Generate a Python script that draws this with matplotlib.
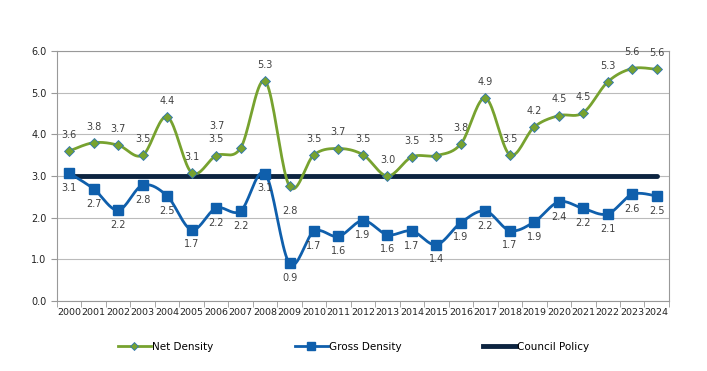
import numpy as np
import matplotlib.pyplot as plt

years = [str(y) for y in range(2000, 2025)]
net_density = [3.6, 3.8, 3.74, 3.5, 4.42, 3.08, 3.49, 3.67, 5.28, 2.75, 3.51, 3.66, 3.51,
               3.0, 3.46, 3.49, 3.77, 4.87, 3.51, 4.18, 4.45, 4.52, 5.26, 5.58, 5.56]
gross_density = [3.07, 2.69, 2.18, 2.78, 2.52, 1.71, 2.23, 2.16, 3.06, 0.9, 1.67, 1.55, 1.93,
                 1.59, 1.68, 1.35, 1.88, 2.16, 1.69, 1.9, 2.38, 2.22, 2.09, 2.56, 2.52]
council_policy = [3.0] * len(years)

GREEN = "#77a22f"
BLUE = "#0f5fac"
NAVY = "#0c2440"


def smooth(x, y, n=20):
    # Excel-style smoothed line: cubic bezier, control points from neighbours
    x = np.asarray(x, float)
    y = np.asarray(y, float)
    px = np.concatenate([[x[0]], x, [x[-1]]])
    py = np.concatenate([[y[0]], y, [y[-1]]])
    t = np.linspace(0, 1, n)[:, None]
    xs, ys = [], []
    for i in range(1, len(px) - 2):
        p0 = np.array([px[i], py[i]])
        p3 = np.array([px[i + 1], py[i + 1]])
        p1 = p0 + (np.array([px[i + 1], py[i + 1]]) - np.array([px[i - 1], py[i - 1]])) / 6
        p2 = p3 - (np.array([px[i + 2], py[i + 2]]) - np.array([px[i], py[i]])) / 6
        b = (1 - t) ** 3 * p0 + 3 * (1 - t) ** 2 * t * p1 + 3 * (1 - t) * t ** 2 * p2 + t ** 3 * p3
        xs.append(b[:, 0])
        ys.append(b[:, 1])
    return np.concatenate(xs), np.concatenate(ys)


plt.rcParams["font.family"] = "DejaVu Sans"
fig = plt.figure(figsize=(7.07, 3.71), dpi=100)
ax = fig.add_axes([0.0806, 0.1887, 0.8656, 0.6738])

x = np.arange(len(years))

ax.plot(x, council_policy, color=NAVY, lw=3.5, solid_capstyle="round", zorder=2)

sx, sy = smooth(x, gross_density)
ax.plot(sx, sy, color=BLUE, lw=2, zorder=3)
ax.plot(x, gross_density, ls="none", marker="s", ms=6.5, color=BLUE, zorder=4)

sx, sy = smooth(x, net_density)
ax.plot(sx, sy, color=GREEN, lw=2, zorder=5)
ax.plot(x, net_density, ls="none", marker="D", ms=5, mfc=GREEN, mec="#2e75b6",
        mew=0.6, zorder=6)

# label offsets (points); most net labels above, gross labels below
net_off = {i: (0, 8) for i in x}
net_off[7] = (-17, 12)
net_off[9] = (0, -18)
gross_off = {i: (0, -7) for i in x}

for i in x:
    dx, dy = net_off[i]
    ax.annotate(f"{net_density[i]:.1f}", (i, net_density[i]), xytext=(dx, dy),
                textcoords="offset points", ha="center",
                va="bottom" if dy > 0 else "center", fontsize=7, color="#404040")
    dx, dy = gross_off[i]
    ax.annotate(f"{gross_density[i]:.1f}", (i, gross_density[i]), xytext=(dx, dy),
                textcoords="offset points", ha="center", va="top", fontsize=7,
                color="#404040")

ax.set_xlim(-0.5, len(years) - 0.5)
ax.set_ylim(0, 6)
ax.set_yticks(np.arange(0, 6.1, 1.0))
ax.set_yticklabels([f"{v:.1f}" for v in np.arange(0, 6.1, 1.0)])
ax.set_xticks(x)
ax.set_xticklabels(years)
ax.set_xticks(np.arange(-0.5, len(years)), minor=True)
ax.tick_params(axis="x", which="major", length=0, labelsize=6.8, pad=5, labelcolor="#222222")
ax.tick_params(axis="x", which="minor", length=4, color="#999999")
ax.tick_params(axis="y", length=4, color="#999999", labelsize=7, labelcolor="#222222")
ax.grid(axis="y", color="#bbbbbb", lw=0.8)
ax.set_axisbelow(True)
for s in ax.spines.values():
    s.set_color("#999999")

handles = [
    plt.Line2D([], [], color=GREEN, lw=2, marker="D", ms=4, mfc=GREEN, mec="#2e75b6", mew=0.6),
    plt.Line2D([], [], color=BLUE, lw=2, marker="s", ms=6),
    plt.Line2D([], [], color=NAVY, lw=3.5),
]
fig.legend(handles, ["Net Density", "Gross Density", "Council Policy"], loc="center",
           bbox_to_anchor=(0.5, 0.065), ncol=3, frameon=False, fontsize=7.5,
           handlelength=3.2, handletextpad=0.1, columnspacing=7.8)

fig.savefig("out.png", dpi=100)
